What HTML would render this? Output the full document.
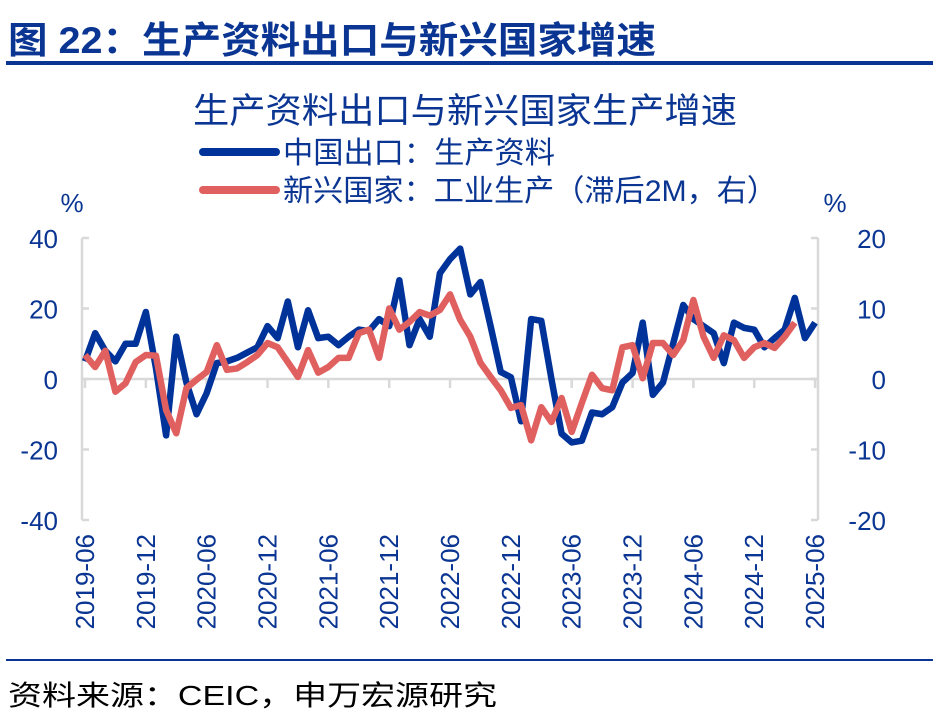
<!DOCTYPE html>
<html><head><meta charset="utf-8"><style>
body{margin:0;background:#fff;width:939px;height:720px;overflow:hidden}
svg{display:block}
text{font-family:"Liberation Sans","Noto Sans CJK SC",sans-serif}
</style></head><body>
<svg id="chart" width="939" height="720">
<text x="8" y="53" font-size="37" font-weight="bold" fill="#0a3592" textLength="648" lengthAdjust="spacingAndGlyphs">图 22：生产资料出口与新兴国家增速</text>
<rect x="6" y="61" width="927" height="4" fill="#0a3592"/>
<text x="193" y="123" font-size="35" fill="#0a3592" textLength="544" lengthAdjust="spacingAndGlyphs">生产资料出口与新兴国家生产增速</text>
<line x1="203" y1="152" x2="276" y2="152" stroke="#00339a" stroke-width="8" stroke-linecap="round"/>
<text x="283" y="163" font-size="30" fill="#0a3592" textLength="272" lengthAdjust="spacingAndGlyphs">中国出口：生产资料</text>
<line x1="203" y1="190" x2="276" y2="190" stroke="#e06060" stroke-width="8" stroke-linecap="round"/>
<text x="283" y="201" font-size="30" fill="#0a3592" textLength="494" lengthAdjust="spacingAndGlyphs">新兴国家：工业生产（滞后2M，右）</text>
<text x="72" y="212" font-size="26" fill="#0a3592" text-anchor="middle">%</text>
<text x="835" y="212" font-size="26" fill="#0a3592" text-anchor="middle">%</text>
<g id="axes"></g>
<g id="series"></g>
<rect x="6" y="659" width="927" height="2" fill="#0a3592"/>
<text x="8" y="705" font-size="28" fill="#000" textLength="489" lengthAdjust="spacingAndGlyphs">资料来源：CEIC，申万宏源研究</text>
</svg>
<script>
const leftTicks=[40,20,0,-20,-40];
const rightTicks=[20,10,0,-10,-20];
const xTickLabels=["2019-06","2019-12","2020-06","2020-12","2021-06","2021-12","2022-06","2022-12","2023-06","2023-12","2024-06","2024-12","2025-06"];
const chinaExport=[5,13,8,5,10,10,19,3,-16,12,-1,-10,-4,4.5,5,6,7.5,9,15,11.6,22,9,19.5,11.6,12,9.6,12,14,13.6,17,15,28,9.6,17,12,30,34,37,24,27.5,15,2,0.5,-12,17,16.5,0,-15.5,-18,-17.5,-9.5,-10,-8,-1,1.7,16,-4.5,-1,10,21,17,15,13,4.5,16,14.5,14,9,11.6,14,23,11.6,16];
const emProduction=[3.4,1.7,4,-1.8,-0.6,2.4,3.4,3.3,-4.4,-7.7,-1.3,-0.1,1,4.8,1.3,1.5,2.4,3.4,5.1,4.5,2.4,0.3,4.1,0.9,1.7,3,3,6.5,7,3,10,7,8.1,9.5,9,9.8,12,8.4,6,2.3,0.3,-1.6,-4.1,-3.7,-8.7,-4,-6.1,-2.7,-7.5,-3.4,0.6,-1.3,-1.6,4.5,4.8,0.1,5.1,5.1,3.4,5.5,11.2,6,3,6.2,5.5,3,4.5,5.1,4.4,6,8];
const NS="http://www.w3.org/2000/svg";
const x0=85,dx=10.14,axL=82,axR=818;
const xS=i=>x0+i*dx;
const yL=v=>379-v*70.5/20;
const yR=v=>379-v*70.5/10;
function mk(tag,attrs,parent){const e=document.createElementNS(NS,tag);for(const k in attrs)e.setAttribute(k,attrs[k]);parent.appendChild(e);return e;}
const ax=document.getElementById('axes');
let e=mk('line',{x1:axL,y1:yL(40),x2:axL,y2:yL(-40),stroke:'#d9d9d9','stroke-width':2.5},ax);


e=mk('line',{x1:axR,y1:yL(40),x2:axR,y2:yL(-40),stroke:'#d9d9d9','stroke-width':2.5},ax);


e=mk('line',{x1:axL,y1:yL(0),x2:axR,y2:yL(0),stroke:'#d9d9d9','stroke-width':2.5},ax);


leftTicks.forEach(v=>{
  const t=mk('line',{x1:axL,y1:yL(v),x2:axL+7,y2:yL(v),stroke:'#d9d9d9','stroke-width':2.5},ax);
  
  
  const l=mk('text',{x:58,y:yL(v)+10,'font-size':26,fill:'#0a3592','text-anchor':'end'},ax);l.textContent=v;
  
  
});
rightTicks.forEach(v=>{
  const t=mk('line',{x1:axR-7,y1:yR(v),x2:axR,y2:yR(v),stroke:'#d9d9d9','stroke-width':2.5},ax);
  
  
  const l=mk('text',{x:886,y:yR(v)+10,'font-size':26,fill:'#0a3592','text-anchor':'end'},ax);l.textContent=v;
  
  
});
xTickLabels.forEach((s,k)=>{
  const x=xS(k*6);
  const t=mk('line',{x1:x,y1:yL(0),x2:x,y2:yL(0)+9,stroke:'#d9d9d9','stroke-width':2.5},ax);
  
  
  const l=mk('text',{x:0,y:0,'font-size':26,fill:'#0a3592','text-anchor':'end',transform:`translate(${x+9},534) rotate(-90)`},ax);l.textContent=s;
  
  
});
const sg=document.getElementById('series');
let p=mk('polyline',{points:emProduction.map((v,i)=>xS(i)+','+yR(v)).join(' '),fill:'none',stroke:'#e06060','stroke-width':6.5,'stroke-linejoin':'round'},sg);


p=mk('polyline',{points:chinaExport.map((v,i)=>xS(i)+','+yL(v)).join(' '),fill:'none',stroke:'#00339a','stroke-width':6.5,'stroke-linejoin':'round'},sg);


sg.insertBefore(p,sg.firstChild);
</script>
</body></html>
